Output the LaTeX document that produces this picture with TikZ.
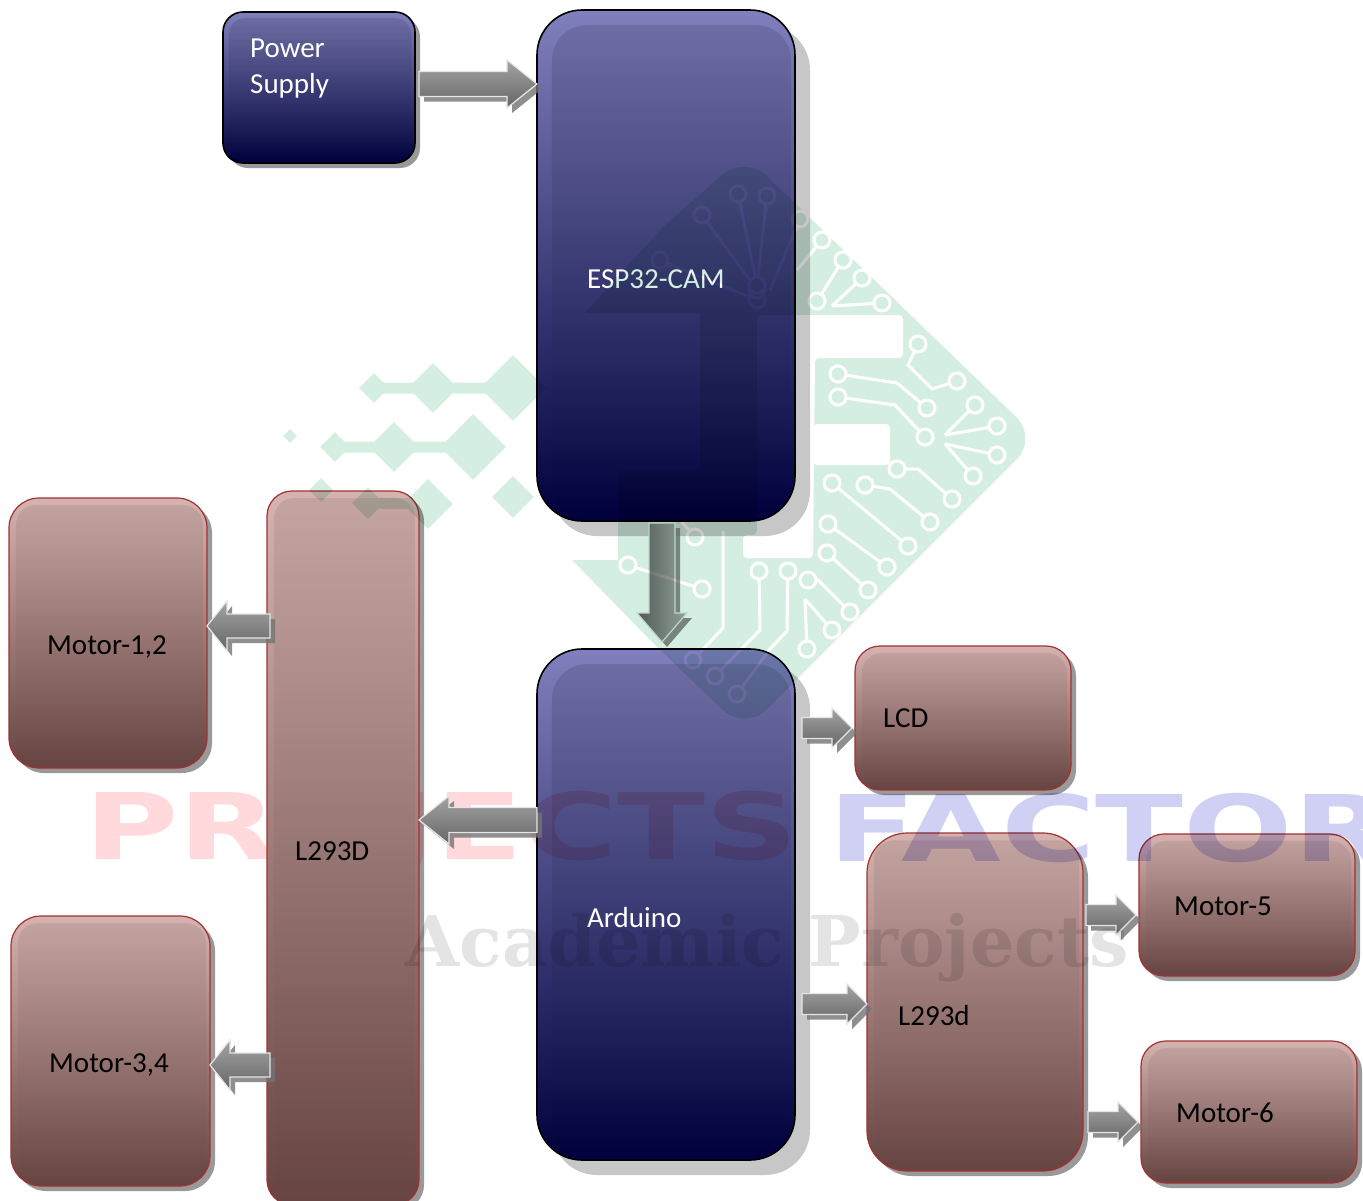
\documentclass[tikz,border=0pt]{standalone}
\usepackage{fontspec}
\setmainfont{Carlito}
\usepackage{tikz}
\usetikzlibrary{arrows.meta, shapes.geometric, shadows, fadings, decorations}
\usepackage{xcolor}
\definecolor{BlueTop}{HTML}{8080BE}
\definecolor{BlueMid}{HTML}{2A2A70}
\definecolor{BlueLow}{HTML}{00003C}
\definecolor{BrownTop}{HTML}{D6B3B0}
\definecolor{BrownMid}{HTML}{A37C78}
\definecolor{BrownLow}{HTML}{664441}
\definecolor{BrownEdge}{HTML}{A03232}
\definecolor{LogoGreen}{HTML}{D5EEE2}
\definecolor{MarkRed}{HTML}{FFD9DC}
\definecolor{MarkBlue}{HTML}{D0D0F5}
\definecolor{MarkGray}{HTML}{E4E4E4}

\pgfdeclaredecoration{fatshape}{draw}{
  \state{draw}[width=1pt,next state=final]{
    \pgfpathmoveto{\pgfpoint{0pt}{\fatshaft}}
    \pgfpathlineto{\pgfpoint{\pgfdecoratedpathlength-\fattip}{\fatshaft}}
    \pgfpathlineto{\pgfpoint{\pgfdecoratedpathlength-\fattip}{\fathead}}
    \pgfpathlineto{\pgfpoint{\pgfdecoratedpathlength}{0pt}}
    \pgfpathlineto{\pgfpoint{\pgfdecoratedpathlength-\fattip}{-\fathead}}
    \pgfpathlineto{\pgfpoint{\pgfdecoratedpathlength-\fattip}{-\fatshaft}}
    \pgfpathlineto{\pgfpoint{0pt}{-\fatshaft}}
    \pgfpathclose
  }
  \state{final}{}
}

\tikzset{
  fat shaft/.store in=\fatshaft, fat head/.store in=\fathead, fat tip/.store in=\fattip,
  gloss/.style n args={3}{path picture={
    \fill[black, fill opacity=#3, path fading=south, rounded corners=#2]
      ([shift={(#1,-#1)}]path picture bounding box.north west) rectangle
      ([xshift=-4pt]path picture bounding box.south east);}},
  bluebox/.style={draw=black, line width=1.6pt, inner sep=0pt, outer sep=0pt,
    top color=BlueTop, middle color=BlueMid, bottom color=BlueLow},
  brownbox/.style={draw=BrownEdge, line width=1.2pt, inner sep=0pt, outer sep=0pt,
    top color=BrownTop, middle color=BrownMid, bottom color=BrownLow,
    rounded corners=25pt, gloss={7pt}{20pt}{.08},
    drop shadow={shadow xshift=5pt, shadow yshift=-5pt, fill=black, opacity=.4}},
  bigshadow/.style={drop shadow={shadow xshift=15pt, shadow yshift=-15pt, fill=black, opacity=.22}},
  whitetext/.style={anchor=west, align=left, inner sep=0pt, text=white, font=\fontsize{29}{36}\selectfont},
  blacktext/.style={anchor=west, align=left, inner sep=0pt, text=black, font=\fontsize{29}{36}\selectfont},
  fatbase/.style={draw=none,
    preaction={decorate, decoration=fatshape, fill=black!55, fill opacity=.8,
      transform canvas={shift={(5pt,-5pt)}}}},
  fatarrow/.style={fatbase, fat shaft=12.5pt, fat head=24pt, fat tip=30pt,
    postaction={decorate, decoration=fatshape, draw=white!90!black, line width=1.2pt,
      top color=black!36, bottom color=black!60}},
  thinarrow/.style={fatbase, fat shaft=10.5pt, fat head=20pt, fat tip=20pt,
    postaction={decorate, decoration=fatshape, draw=white!90!black, line width=1.2pt,
      top color=black!36, bottom color=black!60}},
  fatdown/.style={fatbase, fat shaft=13pt, fat head=25pt, fat tip=29pt,
    postaction={decorate, decoration=fatshape, draw=white!90!black, line width=1.2pt,
      left color=black!62, right color=black!32}},
  trace/.style={draw=white, line width=3pt, shorten >=-9.5pt, shorten <=-9.5pt,
    {Circle[open, fill=LogoGreen, length=19pt, width=19pt]}-{Circle[open, fill=LogoGreen, length=19pt, width=19pt]}},
  halftrace/.style={draw=white, line width=3pt, shorten >=-9.5pt,
    -{Circle[open, fill=LogoGreen, length=19pt, width=19pt]}},
  leaf/.style={diamond, fill=LogoGreen, inner sep=0pt, aspect=1},
  leafbar/.style={draw=LogoGreen, line width=11pt},
  marktext/.style={anchor=west, inner sep=0pt, transform shape, xscale=1.4,
    font=\fontsize{92}{92}\selectfont\fontspec{DejaVu Sans Bold}},
}

\begin{document}
\begin{tikzpicture}[x=1pt, y=-1pt]
  \useasboundingbox (0,0) rectangle (1363,1200);
  \clip (0,0) rectangle (1363,1200);

  % controller blocks
  \node[bluebox, rounded corners=20pt, gloss={6pt}{16pt}{.12},
        drop shadow={shadow xshift=5pt, shadow yshift=-5pt, fill=black, opacity=.4},
        minimum width=192pt, minimum height=151pt] (psu) at (319, 87.5) {};
  \node[bluebox, rounded corners=45pt, gloss={15pt}{35pt}{.12}, bigshadow,
        minimum width=258pt, minimum height=511pt] (esp) at (666, 265.5) {};
  \node[bluebox, rounded corners=45pt, gloss={15pt}{35pt}{.12}, bigshadow,
        minimum width=258pt, minimum height=511pt] (arduino) at (666, 904.5) {};

  % first watermark word stays under the driver block
  \begin{scope}[blend mode=multiply]
    \node[marktext, text=MarkRed] (markA) at (84, 835) {PROJECTS};
  \end{scope}

  % driver and load blocks
  \node[brownbox, rounded corners=30pt, minimum width=198pt, minimum height=270pt] (motorA) at (108, 633) {};
  \node[brownbox, minimum width=152pt, minimum height=714pt] (driverA) at (343, 848) {};
  \node[brownbox, rounded corners=30pt, minimum width=199pt, minimum height=270pt] (motorB) at (110.5, 1051) {};
  \node[brownbox, minimum width=216pt, minimum height=144pt] (lcd) at (963, 718) {};
  \node[brownbox, rounded corners=40pt, minimum width=216pt, minimum height=338pt] (driverB) at (975, 1002) {};
  \node[brownbox, minimum width=216pt, minimum height=142pt] (motorC) at (1247, 905) {};
  \node[brownbox, minimum width=216pt, minimum height=142pt] (motorD) at (1249, 1112) {};

  % labels
  \node[whitetext] (psulabel) at (250, 69) {Power\\Supply};
  \node[whitetext] (esplabel) at (587, 279) {ESP32-CAM};
  \node[whitetext] (arduinolabel) at (587, 918) {Arduino};
  \node[blacktext] (motorAlabel) at (47, 647) {Motor-1,2};
  \node[blacktext] (driverAlabel) at (295, 851) {L293D};
  \node[blacktext] (motorBlabel) at (49, 1065) {Motor-3,4};
  \node[blacktext] (lcdlabel) at (883, 718) {LCD};
  \node[blacktext] (driverBlabel) at (898, 1016) {L293d};
  \node[blacktext] (motorClabel) at (1174, 906) {Motor-5};
  \node[blacktext] (motorDlabel) at (1176, 1113) {Motor-6};

  % connectors
  \draw[fatarrow] ([xshift=4pt,yshift=3.5pt]psu.east) -- ([yshift=181.5pt]esp.west);
  \draw[fatdown] ([xshift=-4pt,yshift=-2pt]esp.south) -- ([xshift=-4pt,yshift=7pt]arduino.north);
  \draw[fatarrow] ([yshift=84.5pt]arduino.west) -- ([yshift=28pt]driverA.east);
  \draw[thinarrow, fat shaft=12pt, fat head=25pt] ([xshift=3pt,yshift=222pt]driverA.west) -- ([yshift=7pt]motorA.east);
  \draw[thinarrow, fat shaft=12pt, fat head=25pt] ([xshift=3pt,yshift=-217pt]driverA.west) -- ([yshift=-14pt]motorB.east);
  \draw[thinarrow] ([xshift=7pt,yshift=176.5pt]arduino.east) -- ([xshift=-3pt,yshift=-10pt]lcd.west);
  \draw[thinarrow] ([xshift=7pt,yshift=-99.5pt]arduino.east) -- ([yshift=-2pt]driverB.west);
  \draw[thinarrow] ([xshift=3pt,yshift=87pt]driverB.east) -- ([xshift=-3pt,yshift=-10pt]motorC.west);
  \draw[thinarrow] ([xshift=5pt,yshift=-120pt]driverB.east) -- ([xshift=-3pt,yshift=-10pt]motorD.west);

  % watermark logo
  \begin{scope}[blend mode=multiply]
  \begin{scope}[transparency group]
    \fill[LogoGreen] (665,225) [rounded corners=30pt] -- (745,155) -- (1038,438) -- (745,731) -- (660,650)
      [sharp corners] -- (572,560) -- (618,560) -- (618,470) -- (700,470) -- (700,313) -- (585,313) -- cycle;
    \fill[white, rounded corners=4pt] (757,315) -- (903,315) -- (903,358) -- (815,358) -- (813,558)
      -- (743,558) -- (743,535) -- (757,535) -- cycle;
    \fill[white, rounded corners=4pt] (813,424) rectangle (890,465);
    \node[leaf, minimum size=30pt] (leafA) at (374,388) {};
    \node[leaf, minimum size=50pt] (leafB) at (433,388) {};
    \node[leaf, minimum size=66pt] (leafC) at (513,388) {};
    \node[leaf, minimum size=14pt] (leafD) at (290,436) {};
    \node[leaf, minimum size=30pt] (leafE) at (335,447) {};
    \node[leaf, minimum size=50pt] (leafF) at (394,447) {};
    \node[leaf, minimum size=66pt] (leafG) at (473,447) {};
    \node[leaf, minimum size=24pt] (leafH) at (321,490) {};
    \node[leaf, minimum size=32pt] (leafI) at (368,503) {};
    \node[leaf, minimum size=50pt] (leafJ) at (428,504) {};
    \node[leaf, minimum size=42pt] (leafK) at (513,497) {};
    \draw[leafbar] (leafA.center) -- (leafB.center) -- (leafC.center);
    \draw[leafbar] (leafE.center) -- (leafF.center) -- (leafG.center);
    \draw[leafbar] (leafI.center) -- (leafJ.center);
    % traces
    \draw[trace] (817,301) -- (843,260);
    \draw[halftrace] (797,270) -- (822,240);
    \draw[halftrace] (832,306) -- (862,278);
    \draw[halftrace] (832,306) -- (882,303);
    \draw[trace] (918,344) -- (908,365) -- (932,389) -- (957,381);
    \draw[trace] (838,374) -- (897,383) -- (927,408);
    \draw[trace] (838,397) -- (895,405) -- (925,437);
    \draw[halftrace] (945,435) -- (975,405);
    \draw[halftrace] (945,435) -- (997,426);
    \draw[halftrace] (945,444) -- (997,455);
    \draw[halftrace] (945,444) -- (973,476);
    \draw[trace] (897,469) -- (918,469) -- (952,499);
    \draw[trace] (865,485) -- (890,489) -- (930,522);
    \draw[trace] (832,483) -- (908,546);
    \draw[trace] (828,524) -- (887,567);
    \draw[trace] (827,553) -- (868,590);
    \draw[trace] (808,580) -- (818,580) -- (850,612);
    \draw[halftrace] (805,599) -- (832,630);
    \draw[halftrace] (805,599) -- (807,649);
    \draw[trace] (788,571) -- (787,631) -- (770,649) -- (737,694);
    \draw[trace] (759,571) -- (760,630) -- (715,676);
    \draw[halftrace] (723,531) -- (723,628) -- (693,660);
    \draw[trace] (628,565) -- (702,589);
    \draw[halftrace] (680,520) -- (695,537);
    \draw[trace] (660,260) -- (757,300);
    \draw[trace] (702,215) -- (757,290);
    \draw[trace] (738,194) -- (757,285);
    \draw[trace] (767,196) -- (757,285);
    \draw[halftrace] (770,290) -- (800,219);
  \end{scope}
  \end{scope}

  % watermark text
  \begin{scope}[blend mode=multiply]
    \node[marktext, text=MarkBlue] (markB) at (828, 828) {FACTORY};
    \node[anchor=west, inner sep=0pt, text=MarkGray,
          font=\fontsize{70}{70}\selectfont\fontspec{DejaVu Serif Bold}] (markC) at (405, 948) {Academic Projects};
  \end{scope}
\end{tikzpicture}
\end{document}
